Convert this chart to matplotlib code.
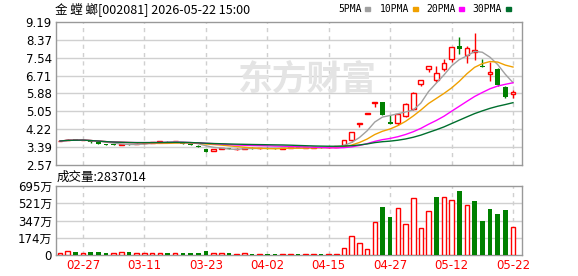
import matplotlib
matplotlib.use("Agg")
import matplotlib.pyplot as plt
from matplotlib.patches import Rectangle
import numpy as np
import pandas as pd

plt.rcParams['font.family'] = ['DejaVu Sans', 'Noto Sans CJK SC']

# trading days shown in the window
dates = ["02-24", "02-25", "02-26", "02-27", "03-02", "03-03", "03-04", "03-05", "03-06",
         "03-09", "03-10", "03-11", "03-12", "03-13", "03-16", "03-17", "03-18", "03-19",
         "03-20", "03-23", "03-24", "03-25", "03-26", "03-27", "03-30", "03-31", "04-01",
         "04-02", "04-03", "04-07", "04-08", "04-09", "04-10", "04-13", "04-14", "04-15",
         "04-16", "04-17", "04-20", "04-21", "04-22", "04-23", "04-24", "04-27", "04-28",
         "04-29", "04-30", "05-06", "05-07", "05-08", "05-11", "05-12", "05-13", "05-14",
         "05-15", "05-18", "05-19", "05-20", "05-21", "05-22"]

opens = [3.66, 3.72, 3.74, 3.72, 3.70, 3.62, 3.55, 3.53, 3.49, 3.54,
         3.53, 3.57, 3.61, 3.64, 3.69, 3.66, 3.58, 3.54, 3.47, 3.31,
         3.23, 3.33, 3.34, 3.30, 3.32, 3.37, 3.35, 3.38, 3.36, 3.33,
         3.36, 3.39, 3.36, 3.38, 3.41, 3.39, 3.41, 3.48, 3.73, 4.49,
         4.95, 5.43, 5.50, 4.55, 4.50, 4.84, 5.15, 6.33, 7.03, 6.49,
         7.03, 7.49, 8.08, 7.68, 7.80, 7.14, 6.76, 7.00, 6.16, 5.88]
highs = [3.69, 3.76, 3.75, 3.75, 3.71, 3.63, 3.56, 3.54, 3.54, 3.55,
         3.57, 3.61, 3.64, 3.68, 3.70, 3.68, 3.59, 3.55, 3.48, 3.33,
         3.32, 3.37, 3.36, 3.34, 3.37, 3.39, 3.38, 3.39, 3.37, 3.37,
         3.39, 3.40, 3.39, 3.41, 3.42, 3.42, 3.45, 3.75, 4.11, 4.52,
         4.97, 5.47, 5.50, 4.88, 4.95, 5.42, 5.95, 6.51, 7.14, 7.15,
         7.49, 8.03, 8.50, 8.10, 8.68, 7.50, 7.35, 7.07, 6.23, 6.04]
lows = [3.66, 3.72, 3.72, 3.71, 3.60, 3.54, 3.48, 3.49, 3.48, 3.51,
        3.52, 3.56, 3.59, 3.62, 3.64, 3.65, 3.53, 3.48, 3.40, 3.15,
        3.20, 3.31, 3.29, 3.28, 3.30, 3.32, 3.33, 3.33, 3.31, 3.31,
        3.34, 3.34, 3.34, 3.36, 3.37, 3.37, 3.39, 3.47, 3.65, 4.34,
        4.95, 5.24, 4.88, 4.45, 4.43, 4.80, 5.12, 6.22, 6.88, 6.40,
        6.91, 7.32, 7.70, 7.28, 7.45, 7.09, 6.45, 6.25, 5.67, 5.68]
closes = [3.68, 3.74, 3.73, 3.74, 3.62, 3.56, 3.49, 3.50, 3.53, 3.52,
          3.56, 3.60, 3.63, 3.67, 3.66, 3.67, 3.54, 3.50, 3.41, 3.19,
          3.30, 3.35, 3.30, 3.32, 3.36, 3.34, 3.37, 3.35, 3.33, 3.36,
          3.38, 3.36, 3.38, 3.40, 3.39, 3.41, 3.44, 3.73, 4.11, 4.52,
          4.97, 5.47, 4.88, 4.47, 4.92, 5.39, 5.92, 6.49, 7.14, 6.84,
          7.29, 8.03, 7.95, 7.99, 7.88, 7.10, 6.88, 6.26, 5.72, 5.95]
# volume in 万 shares
volumes = [20, 40, 30, 20, 30, 30, 20, 20, 33, 30,
           20, 20, 20, 20, 20, 20, 20, 20, 20, 40,
           20, 20, 20, 13, 20, 10, 10, 10, 10, 10,
           13, 10, 10, 10, 10, 12, 12, 70, 190, 117,
           60, 332, 483, 383, 472, 311, 571, 271, 442, 586,
           584, 554, 644, 503, 547, 346, 463, 413, 453, 284]

ma_periods = [5, 10, 20, 30]
ma_colors = ["#a0a0a0", "#f0a000", "#ff00ff", "#006f2e"]
price_ticks = [2.57, 3.3975, 4.225, 5.0525, 5.88, 6.7075, 7.535, 8.3625, 9.19]
price_labels = ["2.57", "3.39", "4.22", "5.05", "5.88", "6.71", "7.54", "8.37", "9.19"]
vol_ticks = [0, 174, 347, 521, 695]
vol_labels = ["0", "174万", "347万", "521万", "695万"]
last_volume = "2837014"

RED = "#ff0000"
GREEN = "#008000"
GRID = "#d0d0d0"
SPINE = "#999999"

W, H = 578, 276
fig = plt.figure(figsize=(W / 100, H / 100), dpi=100)
ax = fig.add_axes([56 / W, 1 - 165 / H, 466 / W, 143 / H])
axv = fig.add_axes([56 / W, 1 - 255 / H, 466 / W, 69 / H])

x = np.arange(len(dates))
o = np.array(opens); h = np.array(highs); l = np.array(lows); c = np.array(closes)
up = c >= o
tick_idx = list(range(3, len(dates), 8))

for a in (ax, axv):
    a.set_xlim(-0.52, 60.17)
    for s in a.spines.values():
        s.set_color(SPINE)
        s.set_linewidth(1)
    a.tick_params(length=0, labelsize=8.5, pad=3)
    for t in tick_idx:
        a.axvline(t, color=GRID, lw=1, ls=(0, (3, 3)), zorder=0)

# price panel
ax.set_ylim(2.57, 9.19)
ax.set_yticks(price_ticks)
ax.set_yticklabels(price_labels)
for v in price_ticks[1:-1]:
    ax.axhline(v, color=GRID, lw=1, zorder=0)
ax.set_xticks([])

ax.text(0.54, 0.6, "东方财富", transform=ax.transAxes, ha="center", va="center",
        fontsize=25, fontweight="bold", color="#e4e4e4", family="Noto Sans CJK SC", zorder=0)

bw = 0.62
ax.vlines(x, l, h, colors=[RED if u else GREEN for u in up], lw=1, zorder=2)
body = np.maximum(np.abs(c - o), 0.025)
bottom = np.minimum(o, c)
ax.bar(x[up], body[up], bw, bottom[up], facecolor="white", edgecolor=RED, lw=1, zorder=3)
ax.bar(x[~up], body[~up], bw, bottom[~up], color=GREEN, lw=0, zorder=3)

cs = pd.Series(closes)
for p, col in zip(ma_periods, ma_colors):
    ax.plot(x, cs.rolling(p, min_periods=1).mean(), color=col, lw=1, zorder=4)

# volume panel
vol = np.array(volumes)
vup = np.r_[True, c[1:] >= c[:-1]]
axv.set_ylim(0, 695)
axv.set_yticks(vol_ticks)
axv.set_yticklabels(vol_labels)
for v in vol_ticks[1:-1]:
    axv.axhline(v, color=GRID, lw=1, zorder=0)
axv.bar(x[vup], vol[vup], 0.6, facecolor="white", edgecolor=RED, lw=1, zorder=3)
axv.bar(x[~vup], vol[~vup], 0.6, color=GREEN, lw=0, zorder=3)
axv.set_xticks(tick_idx)
axv.set_xticklabels([dates[i] for i in tick_idx], color=RED)

# header texts
fig.text(55 / W, 1 - 9 / H, "金 螳 螂[002081] 2026-05-22 15:00", fontsize=9,
         family=["Noto Sans CJK SC", "DejaVu Sans"], va="center", ha="left")
fig.text(57 / W, 1 - 177 / H, "成交量:" + last_volume, fontsize=9,
         family=["Noto Sans CJK SC", "DejaVu Sans"], va="center", ha="left")

leg_x = [338, 380, 426, 472]
dash_x = [365, 413, 459, 506]
for p, col, tx, dx in zip(ma_periods, ma_colors, leg_x, dash_x):
    fig.text(tx / W, 1 - 9 / H, f"{p}PMA", fontsize=7, family="DejaVu Sans Mono",
             va="center", ha="left")
    fig.add_artist(Rectangle((dx / W, 1 - 10.5 / H), 5 / W, 3 / H,
                             transform=fig.transFigure, color=col))

fig.savefig("out.png", dpi=100)
